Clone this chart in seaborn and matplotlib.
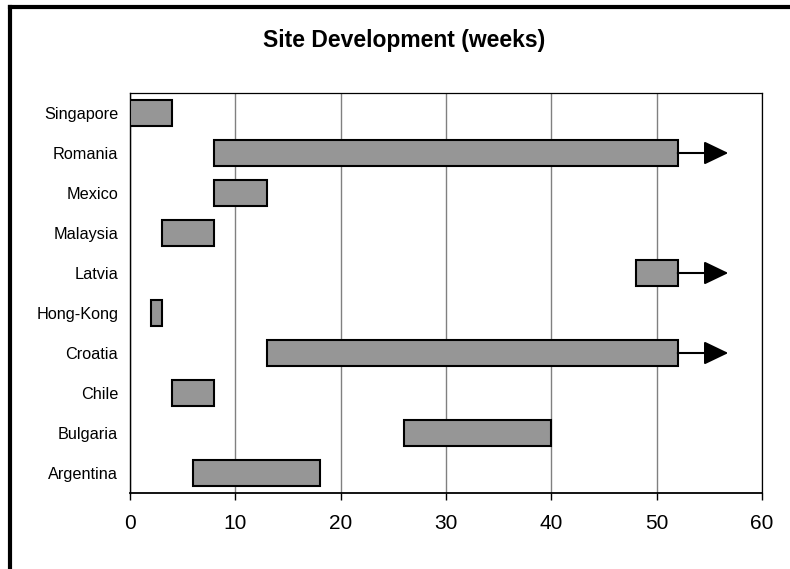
import matplotlib
matplotlib.use("Agg")
import matplotlib.pyplot as plt
from matplotlib.lines import Line2D
import seaborn as sns
import pandas as pd

# Site development windows, in weeks from project start
countries = ["Singapore", "Romania", "Mexico", "Malaysia", "Latvia",
             "Hong-Kong", "Croatia", "Chile", "Bulgaria", "Argentina"]
start_week = [0, 8, 8, 3, 48, 2, 13, 4, 26, 6]
end_week = [4, 52, 13, 8, 52, 3, 52, 8, 40, 18]
ongoing = ["Romania", "Latvia", "Croatia"]   # still running past week 52
x_ticks = [0, 10, 20, 30, 40, 50, 60]

df = pd.DataFrame({"country": countries, "start": start_week, "end": end_week})
df["duration"] = df["end"] - df["start"]

sns.set_theme(style="white")
plt.rcParams["font.family"] = ["Liberation Sans", "DejaVu Sans"]

fig = plt.figure(figsize=(7.9, 5.69), dpi=100)
ax = fig.add_axes([130 / 790, 1 - 493 / 569, 632 / 790, 400 / 569])

sns.barplot(data=df, x="duration", y="country", order=countries, orient="h",
            color="#969696", saturation=1, width=0.67, edgecolor="black",
            linewidth=1.5, ax=ax, zorder=3)

# shift each bar so it spans start -> end
for patch, s, d in zip(ax.patches, df["start"], df["duration"]):
    patch.set_x(s)
    patch.set_width(d)

# arrows for sites still under development
for name in ongoing:
    i = countries.index(name)
    x_end = end_week[i]
    ax.annotate("", xy=(x_end + 4.8, i), xytext=(x_end, i),
                arrowprops=dict(arrowstyle="-|>,head_length=1.5,head_width=0.72",
                                mutation_scale=10, lw=1.5, color="black",
                                shrinkA=0, shrinkB=0), zorder=4)

ax.set_xlim(0, 60)
ax.set_xticks(x_ticks)
ax.set_xticklabels([str(t) for t in x_ticks])
ax.set_xlabel("")
ax.set_ylabel("")

ax.grid(axis="x", color="#808080", linewidth=1.0, zorder=0)
ax.grid(axis="y", visible=False)
for side in ["left", "right", "top", "bottom"]:
    ax.spines[side].set_visible(True)
    ax.spines[side].set_color("black")
ax.spines["bottom"].set_linewidth(1.3)
ax.spines["left"].set_linewidth(1.0)
ax.spines["right"].set_linewidth(0.9)
ax.spines["top"].set_linewidth(0.9)

ax.tick_params(axis="x", bottom=True, direction="out", length=5, width=1,
               color="black", labelsize=15, pad=10, labelcolor="black")
ax.tick_params(axis="y", left=False, length=0, labelsize=11.7, pad=8.5,
               labelcolor="black")

fig.text(404 / 790, 1 - 47 / 569, "Site Development (weeks)", ha="center",
         va="baseline", fontsize=16.5, fontweight="bold", color="black")

# chart frame edges
fig.add_artist(Line2D([10 / 790, 10 / 790], [0, 1 - 7 / 569],
                      transform=fig.transFigure, color="black", linewidth=3,
                      solid_capstyle="projecting"))
fig.add_artist(Line2D([10 / 790, 1], [1 - 7 / 569, 1 - 7 / 569],
                      transform=fig.transFigure, color="black", linewidth=3,
                      solid_capstyle="projecting"))

fig.savefig("out.png", dpi=100, facecolor="white")
